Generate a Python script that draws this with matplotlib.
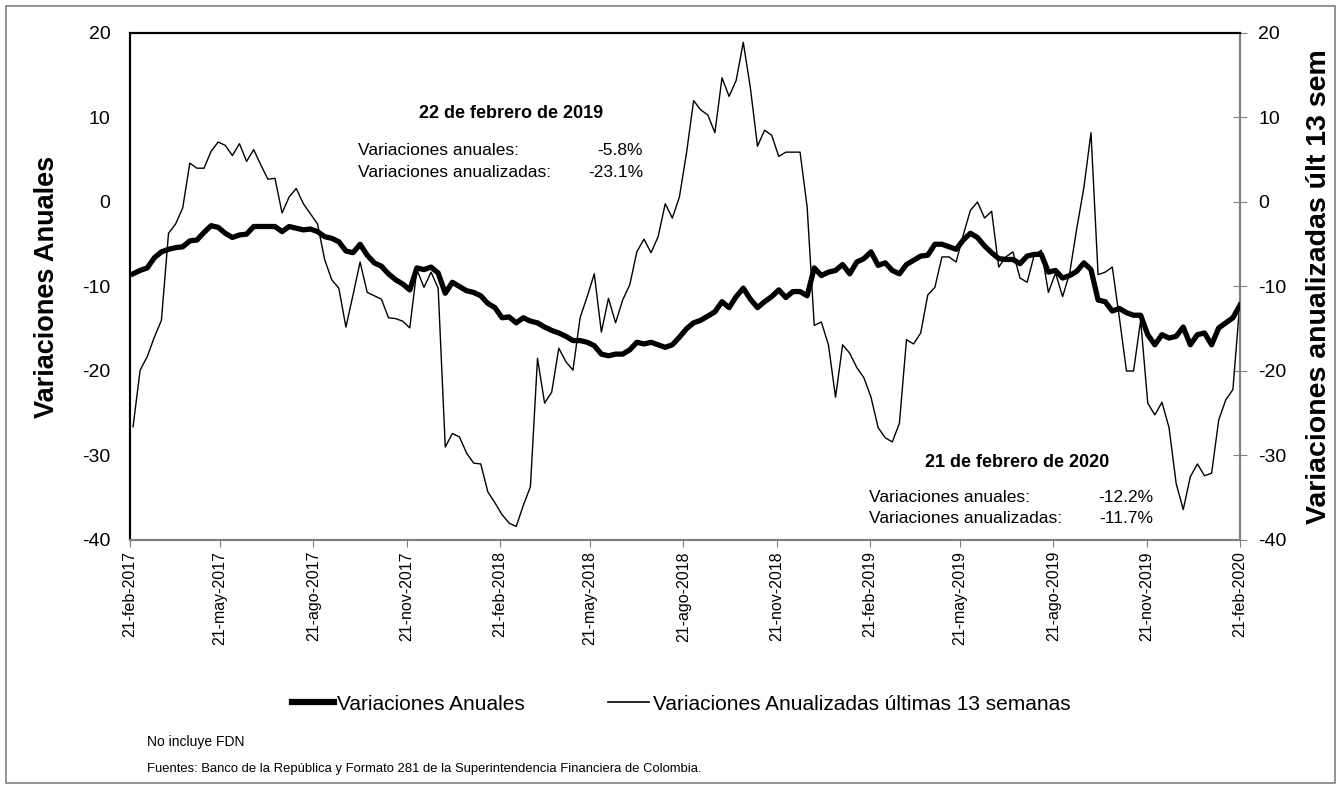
import numpy as np
import pandas as pd
import matplotlib
matplotlib.use("Agg")
import matplotlib.pyplot as plt
from matplotlib.patches import Rectangle
from matplotlib.lines import Line2D

plt.rcParams['font.family'] = ['Liberation Sans', 'DejaVu Sans']
plt.rcParams['axes.unicode_minus'] = False

# weekly data, fridays, 24-feb-2017 .. 21-feb-2020
fechas = pd.date_range(end='2020-02-21', periods=157, freq='7D')

var_anual = [
    -8.5, -8.1, -7.8, -6.6, -5.9, -5.6, -5.4, -5.3, -4.6, -4.5,
    -3.6, -2.8, -3.0, -3.7, -4.2, -3.9, -3.8, -2.9, -2.9, -2.9,
    -2.9, -3.5, -2.9, -3.1, -3.3, -3.2, -3.5, -4.1, -4.3, -4.7,
    -5.8, -6.0, -5.0, -6.3, -7.2, -7.6, -8.5, -9.2, -9.7, -10.4,
    -7.8, -8.0, -7.7, -8.4, -10.8, -9.5, -10.0, -10.5, -10.7, -11.1,
    -12.0, -12.5, -13.7, -13.6, -14.3, -13.7, -14.1, -14.3, -14.8, -15.2,
    -15.5, -15.9, -16.4, -16.4, -16.6, -17.0, -18.0, -18.2, -18.0, -18.0,
    -17.5, -16.6, -16.8, -16.6, -16.9, -17.2, -16.9, -16.0, -15.0, -14.3,
    -14.0, -13.5, -13.0, -11.8, -12.5, -11.2, -10.2, -11.5, -12.5, -11.8,
    -11.2, -10.4, -11.3, -10.6, -10.6, -11.1, -7.8, -8.7, -8.3, -8.1,
    -7.4, -8.5, -7.1, -6.7, -5.9, -7.5, -7.2, -8.1, -8.5, -7.4,
    -6.9, -6.4, -6.3, -5.0, -5.0, -5.3, -5.6, -4.5, -3.7, -4.2,
    -5.2, -6.0, -6.7, -6.8, -6.8, -7.3, -6.4, -6.2, -6.2, -8.3,
    -8.1, -9.0, -8.7, -8.2, -7.2, -8.0, -11.6, -11.8, -12.9, -12.6,
    -13.1, -13.4, -13.4, -15.7, -16.9, -15.7, -16.1, -15.9, -14.8, -16.9,
    -15.7, -15.5, -16.9, -14.9, -14.3, -13.7, -12.2,
]

var_13sem = [
    -26.6, -19.9, -18.3, -16.0, -14.0, -3.7, -2.6, -0.7, 4.6, 4.0,
    4.0, 6.0, 7.1, 6.7, 5.5, 6.9, 4.8, 6.2, 4.4, 2.7,
    2.8, -1.3, 0.6, 1.6, -0.2, -1.4, -2.6, -6.8, -9.2, -10.2,
    -14.8, -11.0, -7.1, -10.7, -11.1, -11.5, -13.7, -13.8, -14.1, -14.9,
    -8.0, -10.1, -8.3, -10.2, -29.0, -27.4, -27.8, -29.7, -30.9, -31.0,
    -34.3, -35.6, -37.0, -38.0, -38.4, -35.9, -33.7, -18.5, -23.8, -22.5,
    -17.3, -18.9, -19.9, -13.7, -11.2, -8.5, -15.4, -11.4, -14.3, -11.6,
    -9.8, -5.9, -4.4, -6.0, -4.1, -0.2, -1.9, 0.6, 5.8, 12.0,
    10.9, 10.3, 8.2, 14.7, 12.5, 14.4, 18.9, 13.5, 6.6, 8.5,
    7.9, 5.4, 5.9, 5.9, 5.9, -0.6, -14.6, -14.2, -16.9, -23.1,
    -16.9, -17.9, -19.6, -20.8, -23.1, -26.7, -27.9, -28.4, -26.2, -16.3,
    -16.8, -15.5, -11.0, -10.1, -6.5, -6.5, -7.1, -3.9, -1.0, 0.0,
    -1.9, -1.1, -7.7, -6.5, -5.9, -9.0, -9.5, -6.3, -5.7, -10.7,
    -8.4, -11.2, -8.4, -3.1, 1.7, 8.2, -8.6, -8.3, -7.7, -13.7,
    -20.0, -20.0, -14.0, -23.8, -25.2, -23.7, -26.7, -33.3, -36.4, -32.5,
    -31.0, -32.4, -32.1, -25.8, -23.4, -22.2, -11.7,
]

meses = {2: 'feb', 5: 'may', 8: 'ago', 11: 'nov'}
tick_fechas = pd.date_range('2017-02-21', '2020-02-21', freq=pd.DateOffset(months=3))
tick_labels = [f"{d.day}-{meses[d.month]}-{d.year}" for d in tick_fechas]

W, H = 1341, 789
fig = plt.figure(figsize=(W / 100, H / 100), dpi=100)
ax = fig.add_axes([130 / W, 1 - 540 / H, 1110 / W, 507 / H])
ax2 = ax.twinx()

l1, = ax.plot(fechas, var_anual, color='black', lw=3.8, solid_joinstyle='round', zorder=3)
l2, = ax2.plot(fechas, var_13sem, color='black', lw=1.0)
ax.set_zorder(ax2.get_zorder() + 1)
ax.patch.set_visible(False)

for a in (ax, ax2):
    a.set_ylim(-40, 20)
    a.set_yticks(np.arange(-40, 21, 10))
ax.set_xlim(pd.Timestamp('2017-02-21'), pd.Timestamp('2020-02-21'))
ax.set_xticks(tick_fechas)
ax.set_xticklabels(tick_labels, rotation=90, fontsize=11.5)
ax.tick_params(axis='x', direction='out', length=5, color='#808080', pad=3)
ax.tick_params(axis='y', length=0, labelsize=14, pad=14)
ax2.tick_params(axis='y', direction='inout', length=10, color='#808080', labelsize=14, pad=8)

gris = '#808080'
for a in (ax, ax2):
    a.spines['left'].set_color('black')
    a.spines['top'].set_color('black')
    a.spines['bottom'].set_color(gris)
    a.spines['right'].set_color(gris)
    for s in a.spines.values():
        s.set_linewidth(1.5)

ax.set_ylabel('Variaciones Anuales', fontsize=19.5, fontweight='bold', labelpad=16)
ax2.set_ylabel('Variaciones anualizadas últ 13 sem', fontsize=20.5, fontweight='bold',
               rotation=90, labelpad=14)


def ftext(x, y, s, **kw):
    fig.text(x / W, 1 - y / H, s, **kw)


# annotations
ftext(511, 118, '22 de febrero de 2019', fontsize=13, fontweight='bold', ha='center', va='baseline')
ftext(358, 155, 'Variaciones anuales:', fontsize=12.5, va='baseline')
ftext(643, 155, '-5.8%', fontsize=12.5, ha='right', va='baseline')
ftext(358, 177, 'Variaciones anualizadas:', fontsize=12.5, va='baseline')
ftext(643, 177, '-23.1%', fontsize=12.5, ha='right', va='baseline')

ftext(1017, 467, '21 de febrero de 2020', fontsize=13, fontweight='bold', ha='center', va='baseline')
ftext(869, 502, 'Variaciones anuales:', fontsize=12.5, va='baseline')
ftext(1153, 502, '-12.2%', fontsize=12.5, ha='right', va='baseline')
ftext(869, 523, 'Variaciones anualizadas:', fontsize=12.5, va='baseline')
ftext(1153, 523, '-11.7%', fontsize=12.5, ha='right', va='baseline')

# legend
h1 = Line2D([], [], color='black', lw=4.5)
h2 = Line2D([], [], color='black', lw=1.2)
fig.legend([h1, h2], ['Variaciones Anuales', 'Variaciones Anualizadas últimas 13 semanas'],
           loc='center', bbox_to_anchor=(681 / W, 1 - 704 / H), ncol=2, frameon=False,
           fontsize=15, handlelength=2.0, handletextpad=0.15, columnspacing=4.0)

# footnotes
ftext(147, 746, 'No incluye FDN', fontsize=10, va='baseline')
ftext(147, 772, 'Fuentes: Banco de la República y Formato 281 de la Superintendencia Financiera de Colombia.',
      fontsize=9.4, va='baseline')

# outer frame
fig.patches.append(Rectangle((6 / W, 6 / H), 1 - 12 / W, 1 - 12 / H, transform=fig.transFigure,
                             fill=False, edgecolor=gris, lw=1.2))

fig.savefig('out.png', dpi=100)
